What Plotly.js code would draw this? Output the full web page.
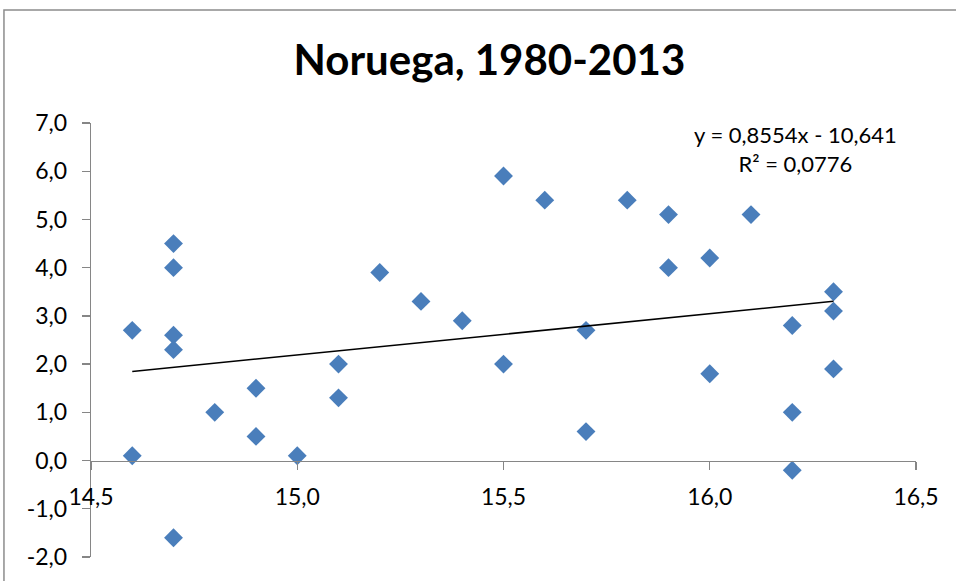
<!DOCTYPE html>
<html><head><meta charset="utf-8">
<script src="https://cdn.plot.ly/plotly-3.0.1.min.js"></script>
<style>html,body{margin:0;padding:0;background:#fff}#chart{width:956px;height:581px}</style>
</head><body><div id="chart"></div>
<script>
const xValues = [14.6,14.6,14.7,14.7,14.7,14.7,14.7,14.8,14.9,14.9,15.0,15.1,15.1,15.2,15.3,15.4,
                 15.5,15.5,15.6,15.7,15.7,15.8,15.9,15.9,16.0,16.0,16.1,16.2,16.2,16.2,16.3,16.3,16.3];
const yValues = [2.7,0.1,4.5,4.0,2.6,2.3,-1.6,1.0,1.5,0.5,0.1,2.0,1.3,3.9,3.3,2.9,
                 5.9,2.0,5.4,2.7,0.6,5.4,5.1,4.0,4.2,1.8,5.1,2.8,1.0,-0.2,3.5,3.1,1.9];
const slope = 0.8554, intercept = -10.641, r2 = 0.0776;
const xTickVals = [14.5,15.0,15.5,16.0,16.5];
const xTickLabels = ['14,5','15,0','15,5','16,0','16,5'];
const yTickVals = [-2,-1,0,1,2,3,4,5,6,7];
const yTickLabels = ['-2,0','-1,0','0,0','1,0','2,0','3,0','4,0','5,0','6,0','7,0'];
const titleText = 'Noruega, 1980-2013';

const xMin = Math.min(...xValues), xMax = Math.max(...xValues);
const trendX = [xMin, xMax];
const trendY = trendX.map(v => slope * v + intercept);
const fmt = (v, d) => v.toFixed(d).replace('.', ',');
const eqText = 'y = ' + fmt(slope,4) + 'x - ' + fmt(Math.abs(intercept),3) + '<br>R² = ' + fmt(r2,4);

const font = 'Lato, "Open Sans", sans-serif';
const yMin = -2, yMax = 7;

Plotly.newPlot('chart', [
  {x: xValues, y: yValues, type: 'scatter', mode: 'markers',
   marker: {symbol: 'diamond', size: 14.5, color: '#4A7EBB', line: {width: 0}},
   cliponaxis: false, hoverinfo: 'x+y'},
  {x: trendX, y: trendY, type: 'scatter', mode: 'lines',
   line: {color: '#000000', width: 1.5}, hoverinfo: 'skip'}
], {
  width: 956, height: 581,
  margin: {l: 91, r: 40, t: 123, b: 24},
  paper_bgcolor: '#ffffff', plot_bgcolor: '#ffffff',
  showlegend: false,
  title: {text: '<b>' + titleText + '</b>', font: {family: font, size: 42, color: '#000'},
          x: 0.512, xanchor: 'center', y: 0.897, yanchor: 'middle'},
  xaxis: {range: [14.5, 16.5], tickvals: xTickVals, ticktext: xTickLabels,
          anchor: 'free', position: (0 - yMin) / (yMax - yMin),
          showline: true, linecolor: '#868686', linewidth: 1.3,
          ticks: 'outside', ticklen: 8, tickcolor: '#868686', tickwidth: 1.3,
          showgrid: false, zeroline: false, ticklabelstandoff: 8,
          tickfont: {family: font, size: 23, color: '#000'}},
  yaxis: {range: [yMin, yMax], tickvals: yTickVals, ticktext: yTickLabels,
          showline: true, linecolor: '#868686', linewidth: 1.3,
          ticks: 'outside', ticklen: 8, tickcolor: '#868686', tickwidth: 1.3,
          showgrid: false, zeroline: false, ticklabelstandoff: 10,
          tickfont: {family: font, size: 23, color: '#000'}},
  annotations: [{xref: 'paper', yref: 'paper', x: 0.8545, y: 0.940,
                 xanchor: 'center', yanchor: 'middle', showarrow: false,
                 text: eqText, align: 'center',
                 font: {family: font, size: 22, color: '#000'}}],
  shapes: [{type: 'rect', xref: 'paper', yref: 'paper',
            x0: -0.1055, x1: 1.2, y0: -0.3, y1: 1.2604,
            line: {color: '#8c8c8c', width: 1.5}, fillcolor: 'rgba(0,0,0,0)'}]
}, {staticPlot: true});
</script></body></html>
